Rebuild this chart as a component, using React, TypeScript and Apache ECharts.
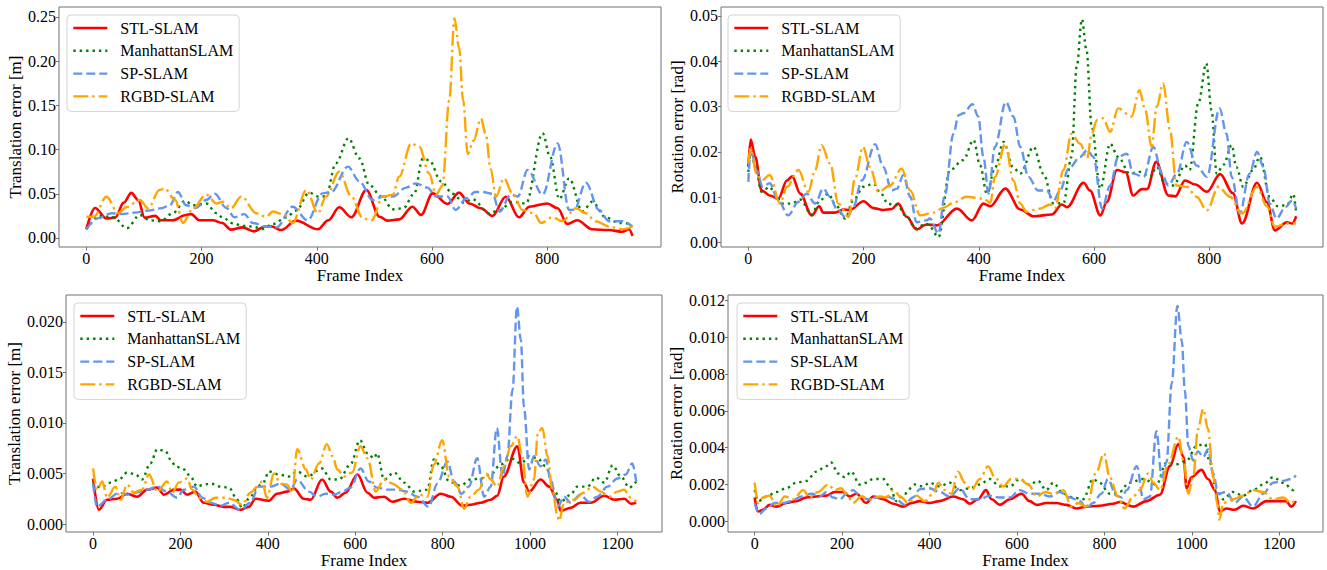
import { useEffect, useRef } from 'react';
import * as echarts from 'echarts';

const FONT = "'Liberation Serif', 'Times New Roman', serif";

const seriesNames = ['STL-SLAM', 'ManhattanSLAM', 'SP-SLAM', 'RGBD-SLAM'];
const seriesColors = ['#ff0000', '#008000', '#6495ed', '#ffa500'];

const topFrameTicks = [0, 200, 400, 600, 800];
const bottomFrameTicks = [0, 200, 400, 600, 800, 1000, 1200];
const tlYTicks = [0, 0.05, 0.1, 0.15, 0.2, 0.25];
const trYTicks = [0, 0.01, 0.02, 0.03, 0.04, 0.05];
const blYTicks = [0, 0.005, 0.01, 0.015, 0.02];
const brYTicks = [0, 0.002, 0.004, 0.006, 0.008, 0.01, 0.012];

// ---- Top-left: translation error, sequence 1 ----
const tlStl = [[0,0.010],[15,0.034],[35,0.022],[50,0.023],[65,0.040],[78,0.051],[90,0.043],[101,0.023],[120,0.025],[129,0.020],[150,0.020],[173,0.026],[182,0.027],[196,0.020],[219,0.020],[236,0.017],[251,0.0094],[271,0.012],[291,0.0075],[310,0.013],[322,0.013],[338,0.009],[364,0.0196],[402,0.0098],[420,0.020],[439,0.0347],[460,0.0234],[486,0.0543],[509,0.0241],[523,0.0196],[543,0.021],[566,0.0354],[581,0.026],[601,0.0505],[627,0.0385],[647,0.0513],[665,0.039],[685,0.0336],[705,0.0249],[728,0.0467],[751,0.0234],[769,0.0354],[800,0.039],[818,0.0336],[835,0.0158],[852,0.020],[878,0.0098],[907,0.009],[930,0.0071],[942,0.0098],[948,0.0023]];
const tlManhattan = [[0,0.0098],[23,0.025],[47,0.0234],[70,0.011],[93,0.026],[110,0.020],[129,0.019],[150,0.028],[171,0.042],[186,0.037],[208,0.039],[226,0.028],[237,0.023],[254,0.0166],[272,0.0136],[289,0.013],[305,0.010],[324,0.0158],[347,0.0234],[364,0.031],[387,0.0513],[402,0.047],[416,0.047],[433,0.0845],[455,0.1128],[474,0.090],[491,0.060],[512,0.047],[532,0.0325],[550,0.0336],[569,0.050],[584,0.090],[595,0.088],[616,0.064],[636,0.050],[655,0.040],[670,0.044],[699,0.028],[716,0.031],[740,0.041],[763,0.039],[792,0.1184],[805,0.092],[821,0.044],[838,0.0675],[861,0.030],[878,0.041],[902,0.023],[925,0.017],[948,0.0158]];
const tlSp = [[0,0.0098],[20,0.0223],[44,0.028],[61,0.027],[84,0.0287],[107,0.031],[130,0.0336],[145,0.037],[159,0.052],[173,0.037],[190,0.034],[208,0.043],[223,0.050],[243,0.034],[257,0.0234],[274,0.027],[289,0.017],[310,0.013],[330,0.012],[358,0.0354],[384,0.020],[410,0.0505],[425,0.052],[454,0.0807],[474,0.064],[497,0.043],[515,0.047],[532,0.047],[555,0.057],[572,0.0618],[592,0.057],[607,0.047],[627,0.047],[641,0.0317],[660,0.045],[675,0.052],[688,0.052],[705,0.050],[717,0.0298],[737,0.049],[749,0.047],[766,0.077],[792,0.049],[818,0.107],[838,0.0317],[847,0.032],[867,0.0626],[890,0.0317],[907,0.019],[930,0.019],[948,0.013]];
const tlRgbd = [[0,0.024],[13,0.024],[35,0.0467],[55,0.028],[70,0.035],[93,0.043],[107,0.0336],[127,0.0543],[136,0.056],[154,0.043],[168,0.017],[184,0.0325],[208,0.049],[226,0.039],[237,0.041],[251,0.0336],[269,0.047],[295,0.028],[312,0.024],[324,0.030],[344,0.026],[358,0.017],[382,0.0543],[402,0.028],[416,0.047],[439,0.075],[460,0.047],[480,0.0223],[495,0.020],[515,0.047],[532,0.049],[543,0.0694],[564,0.107],[578,0.103],[595,0.073],[607,0.049],[618,0.059],[630,0.156],[639,0.2485],[647,0.215],[654,0.156],[662,0.095],[672,0.110],[685,0.135],[693,0.118],[702,0.078],[711,0.0467],[725,0.0675],[740,0.050],[757,0.0317],[777,0.028],[789,0.017],[809,0.0234],[826,0.019],[850,0.0336],[867,0.028],[884,0.019],[907,0.013],[930,0.0098],[948,0.013]];

// ---- Top-right: rotation error, sequence 1 ----
const trStl = [[0,0.0167],[4,0.0227],[12,0.0189],[23,0.0115],[37,0.0104],[52,0.0097],[67,0.0137],[76,0.0146],[90,0.0108],[110,0.006],[123,0.008],[130,0.0066],[150,0.0066],[165,0.0073],[176,0.0072],[200,0.0091],[217,0.0076],[234,0.0072],[249,0.0074],[260,0.0086],[275,0.0057],[292,0.0029],[309,0.0040],[327,0.0038],[362,0.0075],[388,0.0049],[408,0.0086],[420,0.008],[446,0.0119],[472,0.0073],[495,0.0058],[527,0.0062],[544,0.0084],[553,0.0078],[582,0.0132],[593,0.0115],[611,0.006],[622,0.0089],[640,0.016],[655,0.0155],[668,0.0104],[683,0.0118],[692,0.0118],[708,0.0178],[729,0.0104],[741,0.0102],[758,0.0137],[776,0.0128],[796,0.0112],[819,0.0151],[841,0.0109],[857,0.0042],[883,0.0132],[900,0.0089],[914,0.0027],[935,0.0045],[944,0.0042],[951,0.0058]];
const trManhattan = [[0,0.0156],[4,0.0204],[12,0.0167],[23,0.0112],[37,0.0123],[46,0.0108],[58,0.0086],[75,0.0086],[90,0.0095],[110,0.0062],[124,0.0093],[139,0.0108],[150,0.0086],[168,0.0053],[182,0.0093],[200,0.0123],[217,0.013],[229,0.011],[243,0.0085],[258,0.0083],[275,0.0057],[290,0.0031],[309,0.0042],[315,0.0034],[330,0.0012],[350,0.016],[373,0.0182],[391,0.0226],[402,0.0171],[414,0.0108],[428,0.0165],[443,0.0222],[460,0.0165],[472,0.0152],[495,0.0211],[512,0.0152],[530,0.0086],[547,0.0087],[561,0.0189],[570,0.0388],[579,0.0492],[587,0.0424],[596,0.0255],[611,0.0119],[628,0.0218],[642,0.0189],[662,0.0152],[680,0.0156],[697,0.0145],[709,0.0167],[723,0.013],[738,0.0126],[758,0.017],[766,0.016],[781,0.0307],[795,0.0395],[804,0.0292],[813,0.0152],[825,0.0172],[839,0.0215],[847,0.0167],[859,0.0123],[876,0.016],[888,0.0189],[905,0.0101],[919,0.008],[935,0.0083],[946,0.0107],[951,0.0064]];
const trSp = [[0,0.0134],[4,0.0207],[14,0.0159],[25,0.0123],[37,0.0131],[52,0.0093],[69,0.006],[87,0.009],[101,0.0108],[116,0.0086],[130,0.0119],[142,0.0101],[153,0.0075],[171,0.0053],[182,0.0078],[197,0.0137],[220,0.0217],[234,0.0167],[249,0.0115],[258,0.0119],[269,0.0149],[281,0.0101],[292,0.0045],[309,0.0049],[315,0.0053],[330,0.002],[341,0.0104],[356,0.024],[365,0.0281],[373,0.0285],[389,0.0305],[399,0.0278],[408,0.0189],[417,0.0108],[428,0.0211],[447,0.031],[460,0.0278],[472,0.0211],[486,0.0145],[503,0.0115],[518,0.0115],[530,0.0093],[541,0.0115],[556,0.0163],[576,0.0189],[588,0.0204],[599,0.0189],[614,0.0075],[628,0.0126],[642,0.0189],[657,0.0196],[668,0.0152],[686,0.0145],[703,0.0211],[718,0.0152],[729,0.0126],[744,0.0152],[761,0.0222],[778,0.017],[796,0.0145],[818,0.0296],[830,0.024],[839,0.0145],[853,0.0064],[870,0.0152],[883,0.02],[894,0.0167],[905,0.0086],[917,0.0053],[932,0.0078],[944,0.0093],[951,0.0075]];
const trRgbd = [[0,0.0174],[4,0.0207],[14,0.0152],[23,0.0137],[37,0.0149],[55,0.0086],[67,0.0123],[87,0.016],[104,0.0112],[116,0.016],[127,0.0215],[142,0.0174],[156,0.0086],[174,0.0057],[185,0.0141],[199,0.0211],[211,0.0167],[226,0.0112],[246,0.0126],[266,0.0163],[281,0.0115],[298,0.006],[321,0.0066],[339,0.0077],[356,0.0088],[379,0.0101],[408,0.0097],[420,0.0088],[428,0.0145],[446,0.0218],[460,0.0137],[472,0.0086],[483,0.0068],[506,0.0075],[524,0.0084],[532,0.0075],[547,0.016],[561,0.024],[576,0.0218],[588,0.0186],[596,0.024],[605,0.027],[616,0.0274],[628,0.0244],[642,0.0296],[665,0.0278],[679,0.0336],[689,0.0292],[700,0.0211],[709,0.030],[720,0.0351],[732,0.0248],[743,0.0126],[761,0.0123],[778,0.0101],[796,0.0071],[816,0.0123],[836,0.0101],[857,0.0064],[883,0.0123],[900,0.008],[914,0.0035],[935,0.0042],[951,0.0042]];

// ---- Bottom-left: translation error, sequence 2 ----
const blStl = [[0,0.0045],[13,0.0014],[32,0.0024],[55,0.0025],[78,0.003],[101,0.0027],[124,0.0034],[147,0.0036],[162,0.0029],[185,0.0034],[200,0.0034],[215,0.0029],[234,0.0032],[253,0.0021],[276,0.0019],[299,0.0017],[315,0.0017],[337,0.0014],[356,0.0017],[372,0.0025],[402,0.0023],[421,0.003],[444,0.0032],[460,0.0035],[482,0.0025],[498,0.0024],[524,0.0044],[544,0.0032],[559,0.0026],[578,0.0031],[605,0.0049],[628,0.0031],[643,0.0026],[666,0.0027],[685,0.0022],[712,0.0025],[742,0.0022],[765,0.0021],[796,0.003],[819,0.0027],[845,0.0018],[864,0.0019],[887,0.0021],[910,0.0024],[925,0.0028],[940,0.0047],[971,0.0077],[986,0.0041],[998,0.0032],[1024,0.0044],[1044,0.0037],[1062,0.0024],[1070,0.0013],[1093,0.0016],[1115,0.0021],[1139,0.0021],[1170,0.0028],[1193,0.0024],[1216,0.0025],[1231,0.002],[1243,0.0021]];
const blManhattan = [[0,0.0042],[17,0.0036],[40,0.0041],[59,0.0044],[78,0.0051],[97,0.0049],[112,0.0044],[131,0.006],[147,0.0074],[166,0.0072],[177,0.0064],[189,0.0057],[208,0.0054],[223,0.0047],[238,0.0037],[253,0.0039],[269,0.004],[292,0.0037],[311,0.0036],[330,0.0024],[341,0.0016],[360,0.0027],[376,0.0037],[391,0.0042],[402,0.0052],[425,0.0049],[448,0.0047],[467,0.0052],[490,0.0047],[524,0.0055],[544,0.0044],[563,0.0044],[589,0.0059],[611,0.0083],[628,0.007],[643,0.0065],[650,0.007],[666,0.0044],[689,0.0051],[712,0.0041],[735,0.0032],[765,0.0034],[780,0.0064],[796,0.0057],[815,0.0042],[841,0.0038],[864,0.0044],[887,0.0045],[910,0.0049],[933,0.0059],[956,0.0065],[979,0.006],[998,0.0067],[1017,0.0065],[1036,0.0057],[1055,0.0034],[1070,0.0022],[1093,0.0029],[1108,0.0037],[1131,0.0037],[1151,0.0046],[1170,0.0041],[1189,0.0058],[1208,0.0047],[1227,0.0036],[1243,0.0042]];
const blSp = [[0,0.004],[9,0.0017],[32,0.0024],[59,0.0031],[78,0.0029],[97,0.0031],[124,0.0034],[147,0.0037],[169,0.0032],[192,0.0026],[208,0.0034],[231,0.0037],[250,0.0026],[269,0.0021],[292,0.0018],[311,0.0021],[337,0.0014],[360,0.0021],[379,0.0037],[406,0.0037],[429,0.004],[452,0.0034],[467,0.0044],[494,0.0032],[513,0.0027],[532,0.003],[551,0.0029],[570,0.0032],[589,0.0036],[612,0.0055],[631,0.0042],[650,0.0036],[673,0.0034],[696,0.0034],[719,0.0032],[742,0.0027],[768,0.0017],[788,0.004],[811,0.0062],[826,0.0042],[843,0.003],[860,0.0037],[879,0.0065],[895,0.0027],[910,0.0037],[924,0.0095],[937,0.0047],[948,0.0067],[960,0.0133],[970,0.0215],[979,0.0182],[986,0.0116],[998,0.0054],[1009,0.0067],[1024,0.0057],[1036,0.0064],[1047,0.0044],[1063,0.0017],[1078,0.0027],[1093,0.0021],[1115,0.0029],[1135,0.0022],[1154,0.0027],[1177,0.0037],[1200,0.0045],[1219,0.0049],[1234,0.006],[1243,0.0042]];
const blRgbd = [[0,0.0055],[9,0.0034],[21,0.0042],[32,0.0026],[51,0.0037],[63,0.0024],[78,0.0039],[93,0.0031],[112,0.0034],[128,0.0049],[147,0.0032],[169,0.0042],[181,0.0031],[196,0.0041],[215,0.0045],[227,0.0034],[242,0.0026],[261,0.0022],[280,0.0026],[303,0.0026],[322,0.0024],[341,0.0019],[360,0.0031],[376,0.0037],[387,0.0042],[398,0.0026],[414,0.005],[429,0.004],[444,0.0039],[456,0.0031],[467,0.0074],[487,0.0054],[498,0.0044],[517,0.006],[535,0.0079],[548,0.0067],[559,0.0054],[574,0.0047],[593,0.0051],[612,0.0077],[628,0.0065],[647,0.0032],[666,0.0044],[685,0.004],[708,0.0034],[727,0.0021],[746,0.0029],[765,0.0027],[780,0.0059],[799,0.0083],[815,0.0047],[834,0.0037],[849,0.0015],[864,0.0027],[883,0.0034],[899,0.005],[910,0.0044],[925,0.0037],[940,0.0057],[956,0.0077],[971,0.0087],[982,0.0067],[994,0.0027],[1009,0.0044],[1018,0.009],[1028,0.0095],[1040,0.0067],[1051,0.0034],[1063,0.0008],[1066,0.0003],[1078,0.0021],[1100,0.0024],[1123,0.0031],[1143,0.0037],[1162,0.0032],[1181,0.0027],[1200,0.0032],[1215,0.0034],[1231,0.0026],[1243,0.0022]];

// ---- Bottom-right: rotation error, sequence 2 ----
const brStl = [[0,0.0013],[8,0.00054],[19,0.00063],[34,0.0009],[50,0.0008],[72,0.001],[95,0.0011],[118,0.0013],[141,0.00135],[164,0.0014],[183,0.0016],[202,0.0016],[217,0.00135],[233,0.0015],[255,0.001],[271,0.00135],[294,0.0012],[317,0.00096],[339,0.0008],[359,0.001],[378,0.0011],[400,0.001],[423,0.0011],[454,0.00135],[477,0.0012],[492,0.00096],[511,0.0012],[529,0.0017],[542,0.0012],[561,0.0009],[584,0.0012],[610,0.0015],[629,0.0011],[645,0.0009],[667,0.001],[690,0.001],[713,0.0009],[736,0.0007],[759,0.0008],[789,0.00085],[820,0.00096],[835,0.00105],[866,0.0008],[896,0.0011],[927,0.00145],[950,0.003],[969,0.0042],[981,0.0035],[988,0.0018],[999,0.0024],[1022,0.0028],[1037,0.0023],[1053,0.0017],[1064,0.00054],[1079,0.0007],[1098,0.00063],[1117,0.00085],[1140,0.0007],[1171,0.0011],[1193,0.0011],[1216,0.0011],[1227,0.0008],[1238,0.0011]];
const brManhattan = [[0,0.0017],[8,0.0011],[27,0.00135],[50,0.0016],[72,0.0018],[95,0.0021],[118,0.0022],[141,0.0027],[164,0.003],[175,0.0032],[191,0.0026],[206,0.0024],[221,0.0027],[240,0.002],[255,0.0021],[271,0.0023],[294,0.0023],[309,0.0019],[324,0.0011],[343,0.0015],[366,0.002],[385,0.0019],[400,0.0021],[423,0.0019],[446,0.0021],[469,0.0017],[492,0.0018],[515,0.002],[537,0.0023],[561,0.0019],[584,0.0019],[606,0.0023],[629,0.002],[648,0.0022],[667,0.0017],[683,0.0021],[706,0.0015],[728,0.0013],[751,0.0012],[774,0.0023],[789,0.0021],[812,0.0015],[835,0.0016],[856,0.0021],[889,0.0023],[919,0.002],[942,0.0032],[965,0.0031],[988,0.0033],[1011,0.0041],[1030,0.0042],[1041,0.0032],[1056,0.0017],[1072,0.0012],[1094,0.0016],[1117,0.0014],[1140,0.0017],[1163,0.002],[1186,0.0024],[1209,0.0021],[1232,0.0017],[1238,0.0019]];
const brSp = [[0,0.001],[10,0.0004],[27,0.0007],[46,0.001],[65,0.001],[84,0.0011],[107,0.00135],[130,0.0015],[149,0.00135],[164,0.0016],[179,0.0013],[195,0.0012],[214,0.0016],[225,0.0017],[240,0.0014],[259,0.0012],[278,0.0013],[301,0.00135],[324,0.0012],[343,0.0009],[362,0.0013],[378,0.00175],[400,0.0018],[423,0.0016],[446,0.00135],[469,0.0018],[492,0.0012],[515,0.0012],[537,0.0014],[561,0.0013],[584,0.0013],[606,0.0017],[629,0.0015],[652,0.0015],[675,0.00135],[698,0.0016],[721,0.0013],[744,0.0011],[759,0.0007],[774,0.001],[793,0.0015],[808,0.0023],[827,0.0014],[840,0.0013],[851,0.0017],[874,0.003],[889,0.0012],[904,0.00135],[919,0.0049],[931,0.0024],[942,0.0032],[954,0.0075],[967,0.0117],[977,0.0098],[984,0.0071],[992,0.0041],[1003,0.0033],[1014,0.0038],[1026,0.0035],[1037,0.0039],[1049,0.0026],[1060,0.0015],[1079,0.0016],[1098,0.001],[1117,0.00135],[1140,0.0008],[1163,0.0015],[1186,0.0021],[1209,0.0022],[1227,0.0023],[1238,0.0025]];
const brRgbd = [[0,0.0021],[8,0.001],[19,0.0013],[34,0.0014],[50,0.0008],[69,0.00135],[88,0.0012],[111,0.0017],[126,0.0013],[145,0.0016],[168,0.002],[183,0.0017],[198,0.0018],[210,0.0015],[225,0.001],[244,0.00135],[263,0.0012],[286,0.00135],[301,0.0013],[317,0.0017],[336,0.0013],[351,0.001],[370,0.0014],[389,0.0011],[408,0.0015],[420,0.0021],[435,0.0017],[450,0.0015],[465,0.0027],[481,0.0021],[496,0.0017],[515,0.0023],[534,0.003],[549,0.0024],[568,0.0019],[587,0.0023],[606,0.0023],[626,0.002],[645,0.00135],[664,0.0016],[683,0.0015],[706,0.0017],[725,0.0008],[740,0.001],[759,0.0008],[782,0.0027],[799,0.0037],[812,0.0024],[831,0.00135],[846,0.0007],[866,0.00135],[881,0.0017],[900,0.0026],[912,0.0021],[927,0.0017],[946,0.0031],[969,0.0046],[981,0.0033],[992,0.0015],[1003,0.0024],[1014,0.005],[1026,0.0061],[1037,0.005],[1049,0.0024],[1058,0.001],[1063,0.0001],[1072,0.001],[1094,0.0012],[1117,0.0014],[1140,0.0017],[1163,0.0016],[1186,0.0012],[1209,0.0013],[1227,0.001],[1238,0.0012]];

// line styles (matplotlib-like): solid, dotted, dashed, dash-dot
const lineWidths = [2.6, 2.4, 2.4, 2.4];
const lineDashes: any[] = ['solid', [2.4, 4], [9, 4], [15, 4, 2.4, 4]];

const panels = [
  { grid: { left: 59, top: 7, width: 602, height: 240 }, xMin: -47.5, xMax: 997.5, yMin: -0.0102, yMax: 0.2613,
    xTicks: topFrameTicks, yTicks: tlYTicks, dec: 2, yName: 'Translation error [m]', yGap: 30.5, legend: { left: 67, top: 15 },
    data: [tlStl, tlManhattan, tlSp, tlRgbd] },
  { grid: { left: 721, top: 7, width: 602, height: 240 }, xMin: -47.5, xMax: 997.5, yMin: -0.00097, yMax: 0.05194,
    xTicks: topFrameTicks, yTicks: trYTicks, dec: 2, yName: 'Rotation error [rad]', yGap: 28.5, legend: { left: 728, top: 15 },
    data: [trStl, trManhattan, trSp, trRgbd] },
  { grid: { left: 66, top: 295, width: 596, height: 237 }, xMin: -62, xMax: 1302, yMin: -0.00079, yMax: 0.02266,
    xTicks: bottomFrameTicks, yTicks: blYTicks, dec: 3, yName: 'Translation error [m]', yGap: 37.5, legend: { left: 74, top: 303 },
    data: [blStl, blManhattan, blSp, blRgbd] },
  { grid: { left: 728, top: 295, width: 595, height: 237 }, xMin: -61, xMax: 1300, yMin: -0.000575, yMax: 0.01229,
    xTicks: bottomFrameTicks, yTicks: brYTicks, dec: 3, yName: 'Rotation error [rad]', yGap: 34.5, legend: { left: 737, top: 303 },
    data: [brStl, brManhattan, brSp, brRgbd] },
];

export default function App() {
  const ref = useRef<HTMLDivElement>(null);
  useEffect(() => {
    if (!ref.current) return;
    const chart = echarts.init(ref.current, null, { renderer: 'svg' });
    const axisColor = '#707070';
    const option: any = {
      animation: false,
      backgroundColor: '#fff',
      grid: panels.map((p) => ({ ...p.grid, show: true, borderColor: axisColor, borderWidth: 1, backgroundColor: 'transparent' })),
      xAxis: panels.map((p, i) => ({
        type: 'value', gridIndex: i, min: p.xMin, max: p.xMax,
        name: 'Frame Index', nameLocation: 'middle', nameGap: 17,
        nameTextStyle: { fontFamily: FONT, fontSize: 17, color: '#000' },
        axisLine: { show: false, onZero: false },
        axisTick: { show: true, length: 3.5, lineStyle: { color: axisColor }, customValues: p.xTicks },
        axisLabel: { fontFamily: FONT, fontSize: 16, color: '#000', margin: 3, customValues: p.xTicks, formatter: (v: number) => String(Math.round(v)) },
        splitLine: { show: false },
      })),
      yAxis: panels.map((p, i) => ({
        type: 'value', gridIndex: i, min: p.yMin, max: p.yMax,
        name: p.yName, nameLocation: 'middle', nameGap: p.yGap,
        nameTextStyle: { fontFamily: FONT, fontSize: 17, color: '#000' },
        axisLine: { show: false, onZero: false },
        axisTick: { show: true, length: 3, lineStyle: { color: axisColor }, customValues: p.yTicks },
        axisLabel: { fontFamily: FONT, fontSize: 16, color: '#000', margin: 3, customValues: p.yTicks, formatter: (v: number) => v.toFixed(p.dec) },
        splitLine: { show: false },
      })),
      legend: panels.map((p) => ({
        orient: 'vertical', left: p.legend.left, top: p.legend.top,
        itemWidth: 34, itemHeight: 12, itemGap: 6.8,
        padding: [5, 6, 7, 5],
        backgroundColor: 'rgba(255,255,255,0.85)', borderColor: '#d4d4d4', borderWidth: 1, borderRadius: 4,
        selectedMode: false,
        formatter: (name: string) => '{g|}' + name,
        textStyle: { fontFamily: FONT, fontSize: 16, color: '#000', rich: { g: { width: 8 } } },
        itemStyle: { opacity: 0 },
        data: seriesNames.map((n, k) => ({ name: n, lineStyle: { width: lineWidths[k], type: lineDashes[k], color: seriesColors[k] } })),
      })),
      series: panels.flatMap((p, i) => p.data.map((d, k) => ({
        type: 'line', name: seriesNames[k], xAxisIndex: i, yAxisIndex: i, data: d,
        showSymbol: false, symbol: 'none', smooth: 0.35, smoothMonotone: 'x',
        lineStyle: { color: seriesColors[k], width: lineWidths[k], type: lineDashes[k] },
        itemStyle: { color: seriesColors[k] },
      }))),
    };
    chart.setOption(option);
    return () => chart.dispose();
  }, []);
  return <div ref={ref} style={{ position: 'fixed', left: 0, top: 0, width: 1327, height: 570 }} />;
}
